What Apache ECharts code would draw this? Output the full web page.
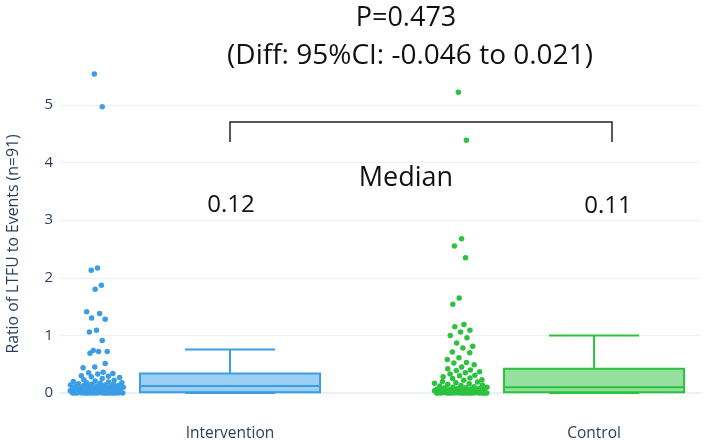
<!DOCTYPE html>
<html>
<head>
<meta charset="utf-8">
<script src="https://cdn.jsdelivr.net/npm/echarts@6/dist/echarts.min.js"></script>
<style>html,body{margin:0;padding:0;background:#fff}#chart{width:709px;height:445px}</style>
</head>
<body>
<div id="chart"></div>
<script>
// ---- data ----
const categories = ['Intervention', 'Control'];
const yTicks = [0, 1, 2, 3, 4, 5];
const yAxisTitle = 'Ratio of LTFU to Events (n=91)';

const interventionValues = [
  5.54, 4.97, 2.17, 2.13, 1.87, 1.80, 1.41, 1.38, 1.30, 1.28, 1.09, 1.06, 0.91,
  0.74, 0.72, 0.72, 0.69, 0.51, 0.45, 0.44, 0.36, 0.35,
  0.34, 0.33, 0.30, 0.29, 0.28, 0.27, 0.25, 0.23, 0.22, 0.21, 0.20, 0.19, 0.18,
  0.18, 0.17, 0.16, 0.15, 0.15, 0.14, 0.14, 0.13, 0.13, 0.12,
  0.12, 0.11, 0.11, 0.10, 0.10, 0.09, 0.09, 0.08, 0.08, 0.07, 0.07, 0.06, 0.06,
  0.05, 0.05, 0.05, 0.04, 0.04, 0.03, 0.03, 0.02, 0.02,
  0.01, 0.01, 0.01, 0.01, 0.01, 0, 0, 0, 0, 0, 0, 0, 0, 0, 0, 0, 0, 0, 0, 0, 0, 0, 0
];
const controlValues = [
  5.22, 4.39, 2.68, 2.55, 2.35, 1.65, 1.54, 1.19, 1.15, 1.09, 1.06, 1.00, 0.96,
  0.87, 0.81, 0.78, 0.71, 0.70, 0.61, 0.58, 0.53, 0.52, 0.49, 0.45,
  0.42, 0.40, 0.39, 0.37, 0.35, 0.33, 0.31, 0.30, 0.28, 0.26, 0.25, 0.23, 0.22,
  0.20, 0.19, 0.18, 0.17, 0.16, 0.15, 0.14, 0.13, 0.12, 0.11,
  0.10, 0.10, 0.09, 0.09, 0.08, 0.08, 0.07, 0.07, 0.06, 0.06, 0.05, 0.05, 0.05,
  0.04, 0.04, 0.03, 0.03, 0.03, 0.02, 0.02, 0.02, 0.02,
  0.01, 0.01, 0.01, 0.01, 0.01, 0, 0, 0, 0, 0, 0, 0, 0, 0, 0, 0, 0, 0, 0, 0, 0, 0, 0
];
// [lower whisker, Q1, median, Q3, upper whisker]
const interventionBox = [0, 0.015, 0.12, 0.34, 0.755];
const controlBox = [0, 0.015, 0.10, 0.42, 1.00];

const medianLabels = ['0.12', '0.11'];
const pValueText = 'P=0.473';
const ciText = '(Diff: 95%CI: -0.046 to 0.021)';
const medianTitle = 'Median';

// ---- styling ----
const BLUE = '#3a9de6';
const GREEN = '#2cc13e';
const FONT = '"Open Sans", "Noto Sans", sans-serif';
const AXIS_TEXT = '#2a3f5f';
const POINT_OFFSET = -0.366;
const JITTER_HALF = 0.078;

function jitterPoints(values, catIndex) {
  // plotly-like jitter: spread scaled with local density
  const counts = values.map(v => values.filter(w => Math.abs(w - v) <= 0.2).length);
  const maxC = Math.max.apply(null, counts);
  return values.map((v, i) => {
    const f = Math.max(0.1, Math.pow(counts[i] / maxC, 0.35));
    const r = ((i * 0.6180339887 + 0.31) % 1) * 2 - 1;
    return [catIndex + POINT_OFFSET + r * JITTER_HALF * f, v];
  });
}

function boxItem(params, api) {
  const x = api.value(0);
  const lo = api.value(1), q1 = api.value(2), med = api.value(3), q3 = api.value(4), hi = api.value(5);
  const half = 0.2473;
  const cap = half / 2;
  const pL = api.coord([x - half, q3]);
  const pR = api.coord([x + half, q1]);
  const c = api.coord([x, med]);
  const yLo = api.coord([x, lo])[1], yHi = api.coord([x, hi])[1];
  const yQ1 = pR[1], yQ3 = pL[1];
  const cL = api.coord([x - cap, 0])[0], cR = api.coord([x + cap, 0])[0];
  const color = params.dataIndex === 0 ? BLUE : GREEN;
  const line = { stroke: color, lineWidth: 2, fill: null };
  return {
    type: 'group',
    children: [
      { type: 'line', shape: { x1: c[0], y1: yQ3, x2: c[0], y2: yHi }, style: line },
      { type: 'line', shape: { x1: c[0], y1: yQ1, x2: c[0], y2: yLo }, style: line },
      { type: 'line', shape: { x1: cL, y1: yHi, x2: cR, y2: yHi }, style: line },
      { type: 'line', shape: { x1: cL, y1: yLo, x2: cR, y2: yLo }, style: line },
      { type: 'rect', shape: { x: pL[0], y: yQ3, width: pR[0] - pL[0], height: yQ1 - yQ3 },
        style: { fill: echarts.color.modifyAlpha(color, 0.5), stroke: color, lineWidth: 2 } },
      { type: 'line', shape: { x1: pL[0], y1: c[1], x2: pR[0], y2: c[1] }, style: line }
    ]
  };
}

const chart = echarts.init(document.getElementById('chart'), null, { renderer: 'canvas' });
chart.setOption({
  animation: false,
  backgroundColor: '#fff',
  grid: { left: 60, right: 9, top: 47.4, bottom: 52 },
  xAxis: {
    type: 'value', min: -0.467, max: 1.291,
    axisLine: { show: true, onZero: true, lineStyle: { color: '#ebf0f8', width: 2 } },
    axisTick: { show: false }, splitLine: { show: false },
    axisLabel: {
      margin: 33, fontSize: 15.5, color: AXIS_TEXT, fontFamily: FONT,
      customValues: categories.map((c, i) => i),
      formatter: v => {
        const k = Math.round(v);
        return (Math.abs(v - k) < 1e-9 && categories[k] !== undefined) ? categories[k] : '';
      }
    }
  },
  yAxis: {
    type: 'value', min: yTicks[0], max: 6, interval: 1,
    axisLine: { show: false }, axisTick: { show: false },
    splitLine: { show: true, showMaxLine: false, lineStyle: { color: '#ebf0f8', width: 1 } },
    axisLabel: {
      margin: 7, fontSize: 15, color: AXIS_TEXT, fontFamily: FONT, showMaxLabel: false,
      formatter: v => (yTicks.indexOf(v) >= 0 ? String(v) : '')
    }
  },
  series: [
    {
      type: 'custom', renderItem: boxItem, z: 2,
      encode: { x: 0, y: [1, 2, 3, 4, 5] },
      data: [[0].concat(interventionBox), [1].concat(controlBox)]
    },
    {
      type: 'scatter', z: 3, symbolSize: 5.5,
      itemStyle: { color: BLUE, opacity: 1 },
      data: jitterPoints(interventionValues, 0)
    },
    {
      type: 'scatter', z: 3, symbolSize: 5.5,
      itemStyle: { color: GREEN, opacity: 1 },
      data: jitterPoints(controlValues, 1)
    }
  ],
  graphic: [
    { type: 'text', x: 13, y: 244, rotation: Math.PI / 2,
      style: { text: yAxisTitle, font: '15.8px ' + FONT, fill: AXIS_TEXT, align: 'center', verticalAlign: 'middle' } },
    { type: 'text', x: 406, y: 18, z: 10,
      style: { text: pValueText, font: '27px ' + FONT, fill: '#111', align: 'center', verticalAlign: 'middle' } },
    { type: 'text', x: 410, y: 56, z: 10,
      style: { text: ciText, font: '28px ' + FONT, fill: '#111', align: 'center', verticalAlign: 'middle' } },
    { type: 'polyline', z: 10,
      shape: { points: [[230, 142], [230, 122], [612, 122], [612, 142]] },
      style: { stroke: '#222', lineWidth: 1.5, fill: null } },
    { type: 'text', x: 406, y: 178, z: 10,
      style: { text: medianTitle, font: '27px ' + FONT, fill: '#111', align: 'center', verticalAlign: 'middle' } },
    { type: 'text', x: 231, y: 205, z: 10,
      style: { text: medianLabels[0], font: '24px ' + FONT, fill: '#111', align: 'center', verticalAlign: 'middle' } },
    { type: 'text', x: 608, y: 206, z: 10,
      style: { text: medianLabels[1], font: '24px ' + FONT, fill: '#111', align: 'center', verticalAlign: 'middle' } }
  ]
});
</script>
</body>
</html>
